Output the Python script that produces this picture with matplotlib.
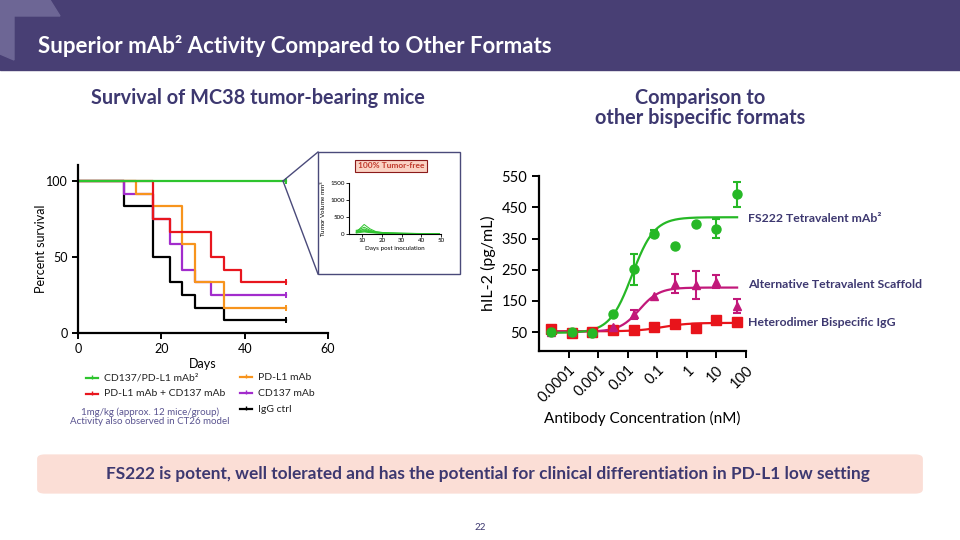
import numpy as np
import matplotlib.pyplot as plt
from matplotlib.lines import Line2D
from matplotlib.patches import Rectangle, Polygon, FancyBboxPatch

plt.rcParams['font.family'] = ['Lato', 'DejaVu Sans']

# ---- survival data (Kaplan-Meier steps: day, percent) ----
surv_days_green = [0, 50]
surv_pct_green = [100, 100]
surv_days_red = [0, 18, 22, 32, 35, 39, 50]
surv_pct_red = [100, 75, 66.7, 50, 41.7, 33.3, 33.3]
surv_days_orange = [0, 14, 18, 25, 28, 35, 50]
surv_pct_orange = [100, 91.7, 83.3, 58.3, 33.3, 16.7, 16.7]
surv_days_purple = [0, 11, 18, 22, 25, 28, 32, 50]
surv_pct_purple = [100, 91.7, 75, 58.3, 41.7, 33.3, 25, 25]
surv_days_black = [0, 11, 18, 22, 25, 28, 35, 50]
surv_pct_black = [100, 83.3, 50, 33.3, 25, 16.7, 8.3, 8.3]

# ---- inset: tumour volume of the mAb2 group ----
tumor_days = [7, 11, 14, 17, 21, 24, 28, 31, 35, 38, 42, 45, 49]
tumor_volumes = [
    [60, 280, 150, 70, 40, 30, 25, 20, 18, 15, 15, 12, 10],
    [90, 200, 110, 60, 35, 28, 22, 20, 18, 16, 14, 12, 12],
    [50, 150, 90, 50, 30, 25, 20, 18, 15, 14, 12, 10, 10],
    [110, 120, 70, 45, 30, 22, 20, 18, 16, 14, 12, 12, 10],
    [40, 100, 60, 40, 25, 20, 18, 16, 14, 12, 10, 10, 8],
    [80, 80, 50, 35, 25, 20, 15, 14, 12, 10, 10, 8, 8],
    [30, 60, 40, 30, 20, 18, 15, 12, 10, 10, 8, 8, 6],
]

# ---- IL-2 release vs antibody concentration ----
conc_nM = [2.56e-5, 1.28e-4, 6.4e-4, 0.0032, 0.016, 0.08, 0.4, 2, 10, 50]
il2_fs222 = [52, 52, 48, 108, 251, 366, 326, 398, 382, 492]
il2_fs222_err = [0, 0, 0, 0, 50, 12, 0, 0, 31, 40]
il2_alt = [52, 52, 50, 66, 107, 166, 206, 201, 212, 134]
il2_alt_err = [0, 0, 0, 0, 15, 0, 30, 45, 20, 22]
il2_het = [62, 47, 52, 57, 57, 68, 75, 63, 89, 82]
il2_het_err = [0, 0, 0, 0, 0, 0, 0, 0, 0, 0]
# 4PL fit parameters: bottom, top, EC50, hill
fit_fs222 = (48, 418, 0.014, 1.15)
fit_alt = (52, 193, 0.025, 1.3)
fit_het = (53, 80, 0.15, 1.0)

conc_ticks = [1e-4, 1e-3, 1e-2, 1e-1, 1, 10, 100]
conc_labels = ['0.0001', '0.001', '0.01', '0.1', '1', '10', '100']

W, H = 960, 540
def fx(px):
    return px / W
def fy(py):
    return 1 - py / H
def box(l, t, r, b):
    return [fx(l), fy(b), (r - l) / W, (b - t) / H]

dark = '#3d3870'
fig = plt.figure(figsize=(9.6, 5.4), dpi=100)

# header band
fig.add_artist(Rectangle((0, fy(70)), 1, 70 / H, transform=fig.transFigure,
                         color='#483f74', zorder=0))
corner = [(0, 0), (50, 0), (60, 16), (14, 16), (14, 60), (0, 54)]
fig.add_artist(Polygon([(fx(a), fy(b)) for a, b in corner], closed=True,
                       transform=fig.transFigure, color='#6d6695', zorder=1))
fig.text(fx(38), fy(46), 'Superior mAb² Activity Compared to Other Formats',
         color='white', fontsize=16, fontweight='bold', va='center')

fig.text(fx(258), fy(98), 'Survival of MC38 tumor-bearing mice', color=dark,
         fontsize=14.3, fontweight='bold', ha='center', va='center')
fig.text(fx(700), fy(108), 'Comparison to\nother bispecific formats', color=dark,
         fontsize=14.3, fontweight='bold', ha='center', va='center', linespacing=1.05)

# ---- survival plot ----
ax = fig.add_axes(box(78, 165, 328, 333))
series = [
    (surv_days_black, surv_pct_black, 'black', 'IgG ctrl'),
    (surv_days_purple, surv_pct_purple, '#a22ccc', 'CD137 mAb'),
    (surv_days_orange, surv_pct_orange, '#f7941d', 'PD-L1 mAb'),
    (surv_days_red, surv_pct_red, '#e8161e', 'PD-L1 mAb + CD137 mAb'),
    (surv_days_green, surv_pct_green, '#2ec42e', 'CD137/PD-L1 mAb²'),
]
for d, p, c, lab in series:
    ax.step(d, p, where='post', color=c, lw=1.6, label=lab)
    ax.plot(d[-1], p[-1], marker='|', color=c, ms=5, mew=1.4)
ax.set_xlim(0, 60)
ax.set_ylim(0, 110.5)
ax.set_xticks([0, 20, 40, 60])
ax.set_yticks([0, 50, 100])
for s in ['top', 'right']:
    ax.spines[s].set_visible(False)
for s in ['left', 'bottom']:
    ax.spines[s].set_linewidth(1.6)
ax.tick_params(width=1.4, length=4, labelsize=9)
ax.set_xlabel('Days', fontsize=9, labelpad=2)
ax.set_ylabel('Percent survival', fontsize=9, labelpad=-1)

# zoom lines + inset frame
fig.add_artist(Line2D([fx(283), fx(318)], [fy(181), fy(152)], transform=fig.transFigure,
                      color='#4a4a7a', lw=1))
fig.add_artist(Line2D([fx(283), fx(318)], [fy(181), fy(274)], transform=fig.transFigure,
                      color='#4a4a7a', lw=1))
fig.add_artist(Rectangle((fx(318), fy(274)), 142 / W, 122 / H, transform=fig.transFigure,
                         fill=False, ec='#4a4a7a', lw=1))
fig.text(fx(391), fy(166), '100% Tumor-free', fontsize=6, fontweight='bold',
         color='#c0392b', ha='center', va='center',
         bbox=dict(boxstyle='square,pad=0.3', fc='#fbd3c4', ec='#8b1a1a', lw=0.8))

axi = fig.add_axes(box(349, 183, 441, 234))
for v in tumor_volumes:
    axi.plot(tumor_days, v, color='#2ec42e', lw=0.7)
axi.set_xlim(3.3, 50)
axi.set_ylim(0, 1500)
axi.set_xticks([10, 20, 30, 40, 50])
axi.set_yticks([0, 500, 1000, 1500])
for s in ['top', 'right']:
    axi.spines[s].set_visible(False)
axi.tick_params(length=2, width=0.6, labelsize=4.5, pad=1)
for s in ['left', 'bottom']:
    axi.spines[s].set_linewidth(0.8)
axi.set_xlabel('Days post inoculation', fontsize=4.5, labelpad=2)
axi.set_ylabel('Tumor Volume mm$^3$', fontsize=4.5, labelpad=2)

# legend (manual, two columns)
leg_items = [
    (86, 378, '#2ec42e', 'CD137/PD-L1 mAb²'),
    (86, 394, '#e8161e', 'PD-L1 mAb + CD137 mAb'),
    (240, 377, '#f7941d', 'PD-L1 mAb'),
    (240, 393, '#a22ccc', 'CD137 mAb'),
    (240, 409, 'black', 'IgG ctrl'),
]
for x0, y0, c, lab in leg_items:
    fig.add_artist(Line2D([fx(x0), fx(x0 + 12)], [fy(y0), fy(y0)], transform=fig.transFigure,
                          color=c, lw=1.6))
    fig.add_artist(Line2D([fx(x0 + 6)], [fy(y0 - 1)], transform=fig.transFigure,
                          color=c, marker='|', ms=3, mew=1))
    fig.text(fx(x0 + 18), fy(y0), lab, fontsize=7.5, va='center', color='#222222')
fig.text(fx(150), fy(417), '1mg/kg (approx. 12 mice/group)\nActivity also observed in CT26 model',
         fontsize=7, color='#5a5490', ha='center', va='center', linespacing=1.0)

# ---- IL-2 plot ----
ax2 = fig.add_axes(box(539, 176, 746, 351))
def fourpl(x, p):
    b, t, ec, h = p
    return b + (t - b) / (1 + (ec / x) ** h)
xs = np.logspace(np.log10(conc_nM[0]), np.log10(conc_nM[-1]), 200)
curves = [
    (il2_het, il2_het_err, fit_het, '#e8141b', 's', 6.5),
    (il2_alt, il2_alt_err, fit_alt, '#c2187a', '^', 6),
    (il2_fs222, il2_fs222_err, fit_fs222, '#26b826', 'o', 6.5),
]
for y, e, p, c, m, ms in curves:
    ax2.plot(xs, fourpl(xs, p), color=c, lw=1.6)
    yerr = np.array(e, dtype=float)
    ax2.errorbar(conc_nM, y, yerr=np.where(yerr > 0, yerr, np.nan), fmt=m, color=c, ms=ms,
                 capsize=3, elinewidth=1.5, capthick=1.5)
ax2.set_xscale('log')
ax2.set_xlim(1e-5, 100)
ax2.set_ylim(-10, 550)
ax2.set_xticks(conc_ticks)
ax2.set_xticklabels(conc_labels, rotation=45, ha='right', rotation_mode='anchor')
ax2.xaxis.set_minor_locator(plt.NullLocator())
ax2.set_yticks([50, 150, 250, 350, 450, 550])
for s in ['top', 'right']:
    ax2.spines[s].set_visible(False)
for s in ['left', 'bottom']:
    ax2.spines[s].set_linewidth(1.6)
ax2.tick_params(width=1.4, length=5, labelsize=10.5)
ax2.set_xlabel('Antibody Concentration (nM)', fontsize=11, labelpad=4)
ax2.set_ylabel('hIL-2 (pg/mL)', fontsize=11.5, labelpad=4)

fig.text(fx(748), fy(219), 'FS222 Tetravalent mAb²', fontsize=8.8, fontweight='bold',
         color=dark, va='center')
fig.text(fx(748), fy(285), 'Alternative Tetravalent Scaffold', fontsize=8.8, fontweight='bold',
         color=dark, va='center')
fig.text(fx(748), fy(322), 'Heterodimer Bispecific IgG', fontsize=8.8, fontweight='bold',
         color=dark, va='center')

# bottom banner
fig.add_artist(FancyBboxPatch((fx(40), fy(492)), 880 / W, 36 / H,
                              boxstyle='round,pad=0.003,rounding_size=0.008',
                              transform=fig.transFigure, fc='#fbded6', ec='none'))
fig.text(fx(488), fy(474), 'FS222 is potent, well tolerated and has the potential for clinical '
         'differentiation in PD-L1 low setting', fontsize=12.4, fontweight='bold', color=dark,
         ha='center', va='center')
fig.text(fx(480), fy(527), '22', fontsize=7, color=dark, ha='center', va='center')

fig.savefig('out.png', dpi=100)
